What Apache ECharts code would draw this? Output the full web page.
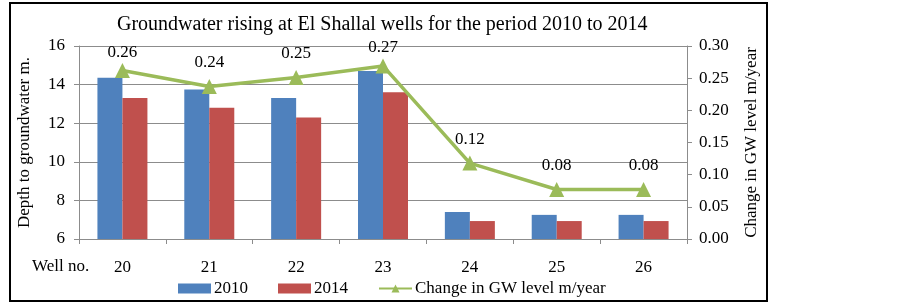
<!DOCTYPE html>
<html>
<head>
<meta charset="utf-8">
<script src="https://cdn.jsdelivr.net/npm/echarts@6/dist/echarts.min.js"></script>
<style>
  html, body { margin: 0; padding: 0; background: #fff; }
  #chart { width: 903px; height: 305px; }
</style>
</head>
<body>
<div id="chart"></div>
<script>
const wells = ['20', '21', '22', '23', '24', '25', '26'];
const depth2010 = [14.35, 13.75, 13.3, 14.7, 7.4, 7.25, 7.25];
const depth2014 = [13.3, 12.8, 12.3, 13.6, 6.93, 6.93, 6.93];
const changeRate = [0.262, 0.237, 0.251, 0.269, 0.118, 0.077, 0.077];

const font = 'Liberation Serif';
const gray = '#8c8c8c';

const chart = echarts.init(document.getElementById('chart'), null, { renderer: 'canvas' });

// labels near the top of the plot sit closer to their points
const lineData = changeRate.map(v => ({
    value: v,
    label: { distance: v > 0.255 ? 2 : 8 }
}));

const option = {
    animation: false,
    textStyle: { fontFamily: font, color: '#000' },
    title: {
        text: 'Groundwater rising at El Shallal wells for the period 2010 to 2014',
        left: 112,
        top: 10,
        textStyle: { fontFamily: font, fontSize: 20, fontWeight: 'normal', color: '#000' }
    },
    grid: { left: 79, right: 216, top: 46, bottom: 66 },
    legend: {
        left: 173,
        top: 275,
        itemWidth: 33,
        itemHeight: 10,
        itemGap: 30,
        textStyle: { fontFamily: font, fontSize: 17, color: '#000', padding: [0, 0, 0, -2] },
        data: [
            { name: '2010', icon: 'rect' },
            { name: '2014', icon: 'rect' },
            { name: 'Change in GW level m/year' }
        ]
    },
    xAxis: {
        type: 'category',
        data: wells,
        axisLine: { lineStyle: { color: gray, width: 1 } },
        axisTick: { show: true, length: 5, lineStyle: { color: gray } },
        axisLabel: { fontFamily: font, fontSize: 17, color: '#000', margin: 20 }
    },
    yAxis: [
        {
            type: 'value',
            min: 6,
            max: 16,
            interval: 2,
            name: 'Depth to groundwater m.',
            nameLocation: 'middle',
            nameGap: 46,
            nameTextStyle: { fontFamily: font, fontSize: 17, color: '#000' },
            axisLine: { show: true, lineStyle: { color: gray } },
            axisTick: { show: true, length: 5, lineStyle: { color: gray } },
            axisLabel: { fontFamily: font, fontSize: 17, color: '#000', margin: 14 },
            splitLine: { lineStyle: { color: gray, width: 1 } }
        },
        {
            type: 'value',
            min: 0,
            max: 0.3,
            interval: 0.05,
            name: 'Change in GW level m/year',
            nameLocation: 'middle',
            nameGap: 56,
            nameTextStyle: { fontFamily: font, fontSize: 17, color: '#000' },
            axisLine: { show: true, lineStyle: { color: gray } },
            axisTick: { show: true, length: 5, lineStyle: { color: gray } },
            axisLabel: {
                fontFamily: font, fontSize: 17, color: '#000', margin: 12,
                formatter: v => v.toFixed(2)
            },
            splitLine: { show: false }
        }
    ],
    series: [
        {
            name: '2010',
            type: 'bar',
            data: depth2010,
            barWidth: 25,
            barGap: '0%',
            itemStyle: { color: '#4F81BD' }
        },
        {
            name: '2014',
            type: 'bar',
            data: depth2014,
            barWidth: 25,
            barGap: '0%',
            itemStyle: { color: '#C0504D' }
        },
        {
            name: 'Change in GW level m/year',
            type: 'line',
            yAxisIndex: 1,
            data: lineData,
            symbol: 'triangle',
            symbolSize: 15,
            lineStyle: { color: '#9BBB59', width: 3.5 },
            itemStyle: { color: '#9BBB59' },
            label: {
                show: true,
                position: 'top',
                fontFamily: font,
                fontSize: 17,
                color: '#000',
                formatter: p => p.value.toFixed(2)
            },
            z: 5
        }
    ],
    graphic: [
        {
            type: 'rect',
            shape: { x: 10, y: 3, width: 757, height: 298 },
            style: { fill: 'none', stroke: '#000', lineWidth: 2 },
            silent: true
        },
        {
            type: 'text',
            x: 32,
            y: 258,
            style: { text: 'Well no.', fontFamily: font, fontSize: 17, fill: '#000' }
        }
    ]
};

chart.setOption(option);
</script>
</body>
</html>
